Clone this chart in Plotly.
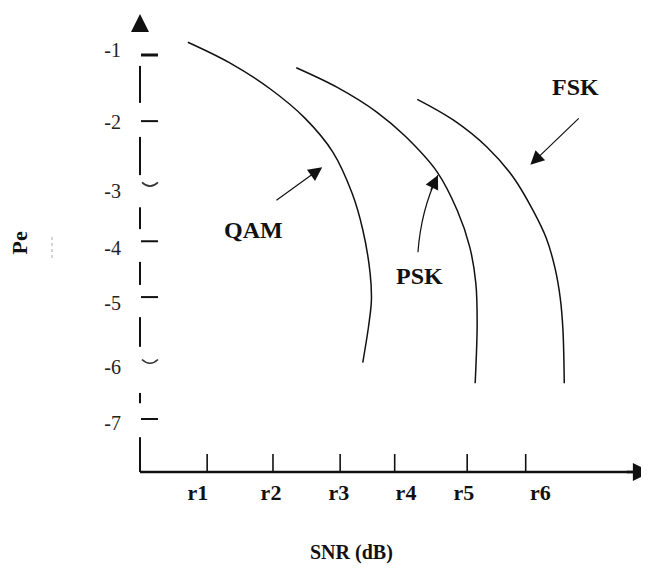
import plotly.graph_objects as go

# ---------------- data (SNR in "r" units, Pe as log10 exponent) ----------------
SNR_TICKS = [1.01, 2.00, 3.01, 3.83, 4.92, 5.80]
SNR_LABEL_POS = [0.87, 1.97, 2.99, 4.00, 4.87, 6.02]
SNR_LABELS = ["r1", "r2", "r3", "r4", "r5", "r6"]

PE_TICKS = [-1.0, -2.09, -3.14, -4.07, -4.99, -6.06, -7.0]
PE_LABEL_POS = [-0.92, -2.10, -3.24, -4.18, -5.09, -6.14, -7.07]
PE_LABELS = ["-1", "-2", "-3", "-4", "-5", "-6", "-7"]

QAM_SNR = [0.72, 1.35, 1.96, 2.48, 2.90, 3.19, 3.35, 3.46, 3.48, 3.44, 3.35]
QAM_LOGPE = [-0.79, -1.13, -1.56, -2.04, -2.60, -3.28, -3.88, -4.59, -5.04, -5.45, -6.07]

PSK_SNR = [2.35, 2.96, 3.56, 3.99, 4.47, 4.77, 4.96, 5.05, 5.07, 5.04]
PSK_LOGPE = [-1.21, -1.53, -1.94, -2.34, -2.93, -3.56, -4.17, -4.76, -5.42, -6.41]

FSK_SNR = [4.17, 4.71, 5.22, 5.61, 5.91, 6.11, 6.24, 6.32, 6.36, 6.38]
FSK_LOGPE = [-1.73, -2.07, -2.52, -3.01, -3.56, -4.02, -4.51, -5.01, -5.53, -6.41]

CURVE_NAMES = ["QAM", "PSK", "FSK"]
# label positions (SNR, logPe)
LABEL_SNR = [1.70, 4.21, 6.55]
LABEL_LOGPE = [-3.88, -4.64, -1.52]
# pointer arrows: tail -> tip
ARROW_TAIL_SNR = [2.03, 4.18, 6.62]
ARROW_TAIL_LOGPE = [-3.41, -4.25, -2.02]
ARROW_TIP_SNR = [2.74, 4.48, 5.87]
ARROW_TIP_LOGPE = [-2.85, -2.98, -2.81]

# broken y-axis segments (logPe start, end)
Y_AXIS_SEGMENTS = [(-1.18, -1.79), (-2.35, -2.98), (-3.51, -3.87), (-4.41, -4.79),
                   (-5.32, -5.81), (-6.57, -6.74), (-7.30, -7.873)]

# ---------------- layout geometry ----------------
# (the page body adds an 8px offset, so the figure is 8px smaller)
W, H = 641, 563
ML, MR, MT, MB = 122, 0, 0, 89
X_RANGE = [-0.15, 7.654]
Y_RANGE = [-8.038, -0.2253]
X_AXIS_Y = -7.873     # where the SNR axis sits
Y_AXIS_X = 0.0        # where the Pe axis sits

px_x = (W - ML - MR) / (X_RANGE[1] - X_RANGE[0])
px_y = (H - MT - MB) / (Y_RANGE[1] - Y_RANGE[0])
dx = lambda p: p / px_x
dy = lambda p: p / px_y

FONT = "Liberation Serif, Times New Roman, serif"
INK = "#111111"

fig = go.Figure()

for xs, ys, name in [(QAM_SNR, QAM_LOGPE, "QAM"), (PSK_SNR, PSK_LOGPE, "PSK"),
                     (FSK_SNR, FSK_LOGPE, "FSK")]:
    fig.add_trace(go.Scatter(x=xs, y=ys, mode="lines", name=name,
                             line=dict(color=INK, width=1.5, shape="spline", smoothing=1.0),
                             hoverinfo="skip", showlegend=False))

shapes = []
# x axis line
shapes.append(dict(type="line", xref="x", yref="y", x0=Y_AXIS_X, x1=7.50,
                   y0=X_AXIS_Y, y1=X_AXIS_Y, line=dict(color=INK, width=2.5)))
# y axis broken segments
for a, b in Y_AXIS_SEGMENTS:
    shapes.append(dict(type="line", xref="x", yref="y", x0=Y_AXIS_X, x1=Y_AXIS_X,
                       y0=a, y1=b, line=dict(color=INK, width=2)))
# x tick marks (inside, upward)
for t in SNR_TICKS:
    shapes.append(dict(type="line", xref="x", yref="y", x0=t, x1=t,
                       y0=X_AXIS_Y, y1=X_AXIS_Y + dy(18), line=dict(color=INK, width=1.6)))
# y tick marks (inside, rightward); -3 and -6 drawn as small arcs like the original
for i, t in enumerate(PE_TICKS):
    if i in (2, 5):
        d = dy(2.5)
        path = (f"M {Y_AXIS_X + dx(2)},{t + d} Q {Y_AXIS_X + dx(10)},{t - 2 * d} "
                f"{Y_AXIS_X + dx(18)},{t + d}")
        shapes.append(dict(type="path", xref="x", yref="y", path=path,
                           line=dict(color="#333333", width=1.6)))
    else:
        shapes.append(dict(type="line", xref="x", yref="y", x0=Y_AXIS_X + dx(1),
                           x1=Y_AXIS_X + dx(18), y0=t, y1=t,
                           line=dict(color=INK, width=3 if i == 0 else 2)))
# faint scan mark next to the Pe title
shapes.append(dict(type="line", xref="paper", yref="paper", x0=-0.1503, x1=-0.1503,
                   y0=0.4726, y1=0.5211, line=dict(color="#aaaaaa", width=1, dash="dot")))

annotations = []
# axis arrowheads
annotations.append(dict(xref="x", yref="y", axref="x", ayref="y", x=Y_AXIS_X,
                        y=-0.324, ax=Y_AXIS_X, ay=-0.637, text="", showarrow=True,
                        arrowhead=2, arrowwidth=2, arrowsize=1.8, arrowcolor=INK))
annotations.append(dict(xref="x", yref="y", axref="x", ayref="y", x=7.684,
                        y=X_AXIS_Y, ax=7.30, ay=X_AXIS_Y, text="", showarrow=True,
                        arrowhead=2, arrowwidth=2.5, arrowsize=1.45, arrowcolor=INK))
# curve labels and pointer arrows
for i, name in enumerate(CURVE_NAMES):
    annotations.append(dict(xref="x", yref="y", x=LABEL_SNR[i], y=LABEL_LOGPE[i],
                            text=f"<b>{name}</b>", showarrow=False,
                            font=dict(family=FONT, size=24, color=INK)))
    if name == "PSK":
        # slightly curved shaft, head drawn by an annotation
        cx, cy = 4.226, -3.555
        tx, ty = ARROW_TIP_SNR[i], ARROW_TIP_LOGPE[i]
        shapes.append(dict(type="path", xref="x", yref="y",
                           path=f"M {ARROW_TAIL_SNR[i]},{ARROW_TAIL_LOGPE[i]} Q {cx},{cy} {tx},{ty}",
                           line=dict(color=INK, width=1.2)))
        annotations.append(dict(xref="x", yref="y", axref="x", ayref="y", x=tx, y=ty,
                                ax=4.363, ay=-3.245, text="", showarrow=True,
                                arrowhead=2, arrowwidth=1.2, arrowsize=2.3, arrowcolor=INK))
    else:
        annotations.append(dict(xref="x", yref="y", axref="x", ayref="y",
                                x=ARROW_TIP_SNR[i], y=ARROW_TIP_LOGPE[i],
                                ax=ARROW_TAIL_SNR[i], ay=ARROW_TAIL_LOGPE[i], text="",
                                showarrow=True, arrowhead=2, arrowwidth=1.2,
                                arrowsize=2.3, arrowcolor=INK))
# axis titles
annotations.append(dict(xref="paper", yref="paper", x=-0.2148, y=0.5042,
                        xanchor="center", yanchor="middle",
                        text="<b>Pe</b>", textangle=-90, showarrow=False,
                        font=dict(family=FONT, size=22, color=INK)))
annotations.append(dict(xref="paper", yref="paper", x=0.4277, y=-0.1477,
                        xanchor="center", yanchor="middle",
                        text="<b>SNR (dB)</b>", showarrow=False,
                        font=dict(family=FONT, size=20, color=INK)))

fig.update_layout(
    width=W, height=H, margin=dict(l=ML, r=MR, t=MT, b=MB, pad=0),
    paper_bgcolor="white", plot_bgcolor="white", showlegend=False,
    shapes=shapes, annotations=annotations,
    xaxis=dict(range=X_RANGE, showgrid=False, zeroline=False, showline=False,
               anchor="free", position=0.0105,
               ticks="", tickmode="array", tickvals=SNR_LABEL_POS, ticktext=SNR_LABELS,
               tickfont=dict(family=FONT, size=22, color=INK, weight="bold"),
               ticklabelstandoff=0, fixedrange=True),
    yaxis=dict(range=Y_RANGE, showgrid=False, zeroline=False, showline=False,
               ticks="", tickmode="array", tickvals=PE_LABEL_POS, ticktext=PE_LABELS,
               tickfont=dict(family=FONT, size=20, color="#222222"),
               ticklabelstandoff=8, fixedrange=True),
)

fig.write_html("out.html")
